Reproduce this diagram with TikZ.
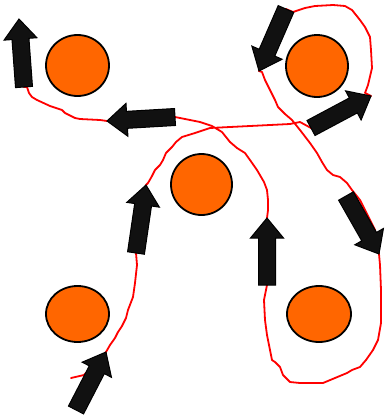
\documentclass[tikz,border=0pt]{standalone}
\usetikzlibrary{calc,shapes.geometric}
\definecolor{discfill}{HTML}{FF6600}
\definecolor{arrowfill}{HTML}{111111}
\tikzset{
  disc/.style={ellipse, draw=black, line width=1.8pt, fill=discfill, inner sep=0pt},
  redline/.style={draw=red, line width=1.8pt, line join=round, line cap=round},
  arrowbody/.style={fill=arrowfill, draw=black, line width=1pt, line join=miter}
}
\newcommand\blockarrow[2]{%
  \coordinate (hb) at ($(#2)!20pt!(#1)$);
  \draw[arrowbody] ($(#1)!8.5pt!90:(#2)$) -- ($(hb)!8.5pt!90:(#2)$) -- ($(hb)!16.5pt!90:(#2)$) -- (#2)
    -- ($(hb)!16.5pt!-90:(#2)$) -- ($(hb)!8.5pt!-90:(#2)$) -- ($(#1)!8.5pt!-90:(#2)$) -- cycle;
}
\begin{document}
\begin{tikzpicture}[x=1pt,y=-1pt]
\useasboundingbox (0,0) rectangle (390,416);
% discs
\node[disc, minimum width=63pt, minimum height=61pt] (c1) at (77.5,65.5) {};
\node[disc, minimum width=62pt, minimum height=62pt] (c2) at (317,66) {};
\node[disc, minimum width=61pt, minimum height=61pt] (c3) at (201.5,184.5) {};
\node[disc, minimum width=63pt, minimum height=56pt] (c4) at (77.5,314) {};
\node[disc, minimum width=64pt, minimum height=56pt] (c5) at (319,314) {};
% arrow ends
\coordinate (a1t) at (24,87);   \coordinate (a1h) at (19,19);
\coordinate (a2t) at (175,117); \coordinate (a2h) at (107,121);
\coordinate (a3t) at (286,9);   \coordinate (a3h) at (259,71);
\coordinate (a4t) at (311,128); \coordinate (a4h) at (371,96);
\coordinate (a5t) at (346,196); \coordinate (a5h) at (379,254);
\coordinate (a6t) at (267,285); \coordinate (a6h) at (267,218);
\coordinate (a7t) at (136,253); \coordinate (a7h) at (146,185);
\coordinate (a8t) at (76,410);  \coordinate (a8h) at (106,352);
\coordinate (start) at (71,378);
% red route
\draw[redline] (start) -- (84,375) -- (a8h) -- (110,345) -- (115,338) -- (118,332) -- (122,326) -- (126,318)
  -- (128,310) -- (133,297) -- (135,283) -- (137,265) -- (a7t) -- (a7h)
  -- (148,183) -- (152,176) -- (155,170) -- (160,165) -- (163,160) -- (166,153) -- (172,147) -- (176,142)
  -- (182,137) -- (195,133) -- (210,128) -- (250,126) -- (290,124) -- (300,122) -- (a4t) -- (a4h)
  -- (365,93) -- (368,85) -- (372,68) -- (371,50) -- (370,37) -- (365,27) -- (360,20) -- (352,10)
  -- (345,6) -- (333,5) -- (315,6) -- (305,8) -- (293,12) -- (a3t) -- (a3h)
  -- (262,72) -- (265,80) -- (270,90) -- (275,100) -- (278,107) -- (285,114) -- (292,120) -- (300,130)
  -- (310,143) -- (317,153) -- (322,162) -- (327,170) -- (333,175) -- (340,177) -- (347,183) -- (352,190)
  -- (360,200) -- (375,230) -- (a5h)
  -- (380,265) -- (381,290) -- (381,323) -- (378,340) -- (373,350) -- (366,360) -- (360,367) -- (352,370)
  -- (347,373) -- (335,378) -- (323,383) -- (300,383) -- (290,382) -- (283,375) -- (280,367) -- (275,362)
  -- (272,360) -- (270,350) -- (267,335) -- (265,320) -- (264,300) -- (a6t) -- (a6h)
  -- (268,210) -- (268,200) -- (267,190) -- (264,182) -- (257,170) -- (250,160) -- (245,153) -- (237,148)
  -- (230,142) -- (222,132) -- (212,126) -- (200,122) -- (190,120) -- (a2t) -- (a2h)
  -- (100,120) -- (80,119) -- (75,118) -- (65,113) -- (62,110) -- (50,106) -- (37,100) -- (32,97)
  -- (29,93) -- (27,87) -- (a1t);
% arrows
\blockarrow{a1t}{a1h}
\blockarrow{a2t}{a2h}
\blockarrow{a3t}{a3h}
\blockarrow{a4t}{a4h}
\blockarrow{a5t}{a5h}
\blockarrow{a6t}{a6h}
\blockarrow{a7t}{a7h}
\blockarrow{a8t}{a8h}
\end{tikzpicture}
\end{document}
